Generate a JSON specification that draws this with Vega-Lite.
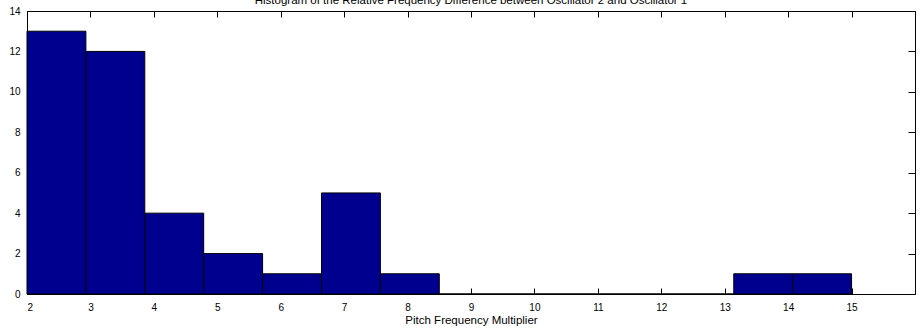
{
  "$schema": "https://vega.github.io/schema/vega-lite/v6.json",
  "width": 888,
  "height": 283,
  "autosize": "none",
  "padding": {"left": 27, "top": 11, "right": 7, "bottom": 34},
  "background": "white",
  "title": {
    "text": "Histogram of the Relative Frequency Difference between Oscillator 2 and Oscillator 1",
    "font": "Liberation Sans",
    "fontSize": 11.5,
    "fontWeight": "normal",
    "color": "black",
    "anchor": "middle",
    "dx": 0,
    "offset": 0
  },
  "config": {
    "view": {"stroke": "black", "strokeWidth": 1},
    "axis": {
      "grid": false,
      "domain": false,
      "tickColor": "black",
      "labelColor": "black",
      "labelFont": "Liberation Sans",
      "labelFontSize": 10,
      "titleFont": "Liberation Sans",
      "titleFontSize": 11.5,
      "titleFontWeight": "normal",
      "titleColor": "black"
    }
  },
  "data": {
    "values": [
      {"bin_start": 2.0, "bin_end": 2.9286, "count": 13},
      {"bin_start": 2.9286, "bin_end": 3.8571, "count": 12},
      {"bin_start": 3.8571, "bin_end": 4.7857, "count": 4},
      {"bin_start": 4.7857, "bin_end": 5.7143, "count": 2},
      {"bin_start": 5.7143, "bin_end": 6.6429, "count": 1},
      {"bin_start": 6.6429, "bin_end": 7.5714, "count": 5},
      {"bin_start": 7.5714, "bin_end": 8.5, "count": 1},
      {"bin_start": 8.5, "bin_end": 9.4286, "count": 0},
      {"bin_start": 9.4286, "bin_end": 10.3571, "count": 0},
      {"bin_start": 10.3571, "bin_end": 11.2857, "count": 0},
      {"bin_start": 11.2857, "bin_end": 12.2143, "count": 0},
      {"bin_start": 12.2143, "bin_end": 13.1429, "count": 0},
      {"bin_start": 13.1429, "bin_end": 14.0714, "count": 1},
      {"bin_start": 14.0714, "bin_end": 15.0, "count": 1}
    ]
  },
  "layer": [
    {
      "mark": {"type": "bar", "color": "#00008F", "stroke": "black", "strokeWidth": 1},
      "encoding": {
        "x": {
          "field": "bin_start", "type": "quantitative",
          "scale": {"domain": [2, 16], "nice": false, "zero": false},
          "axis": {"orient": "bottom", "values": [2,3,4,5,6,7,8,9,10,11,12,13,14,15], "title": "Pitch Frequency Multiplier", "ticks": false, "labelPadding": 8, "titlePadding": 2}
        },
        "x2": {"field": "bin_end"},
        "y": {
          "field": "count", "type": "quantitative",
          "scale": {"domain": [0, 14], "nice": false},
          "axis": {"orient": "left", "values": [0,2,4,6,8,10,12,14], "title": null, "ticks": false, "labelPadding": 7}
        },
        "y2": {"datum": 0}
      }
    },
    {
      "mark": {"type": "bar", "opacity": 0},
      "encoding": {
        "x": {
          "field": "bin_start", "type": "quantitative",
          "scale": {"domain": [2, 16], "nice": false, "zero": false},
          "axis": {"orient": "top", "values": [2,3,4,5,6,7,8,9,10,11,12,13,14,15], "labels": false, "title": null, "tickSize": -6}
        },
        "x2": {"field": "bin_end"},
        "y": {
          "field": "count", "type": "quantitative",
          "scale": {"domain": [0, 14], "nice": false},
          "axis": {"orient": "right", "values": [0,2,4,6,8,10,12,14], "labels": false, "title": null, "tickSize": -7}
        },
        "y2": {"datum": 0}
      }
    },
    {
      "mark": {"type": "bar", "opacity": 0},
      "encoding": {
        "x": {
          "field": "bin_start", "type": "quantitative",
          "scale": {"domain": [2, 16], "nice": false, "zero": false},
          "axis": {"orient": "bottom", "values": [2,3,4,5,6,7,8,9,10,11,12,13,14,15], "labels": false, "title": null, "tickSize": -6}
        },
        "x2": {"field": "bin_end"},
        "y": {
          "field": "count", "type": "quantitative",
          "scale": {"domain": [0, 14], "nice": false},
          "axis": {"orient": "left", "values": [0,2,4,6,8,10,12,14], "labels": false, "title": null, "tickSize": -7}
        },
        "y2": {"datum": 0}
      }
    }
  ],
  "resolve": {"axis": {"x": "independent", "y": "independent"}}
}
